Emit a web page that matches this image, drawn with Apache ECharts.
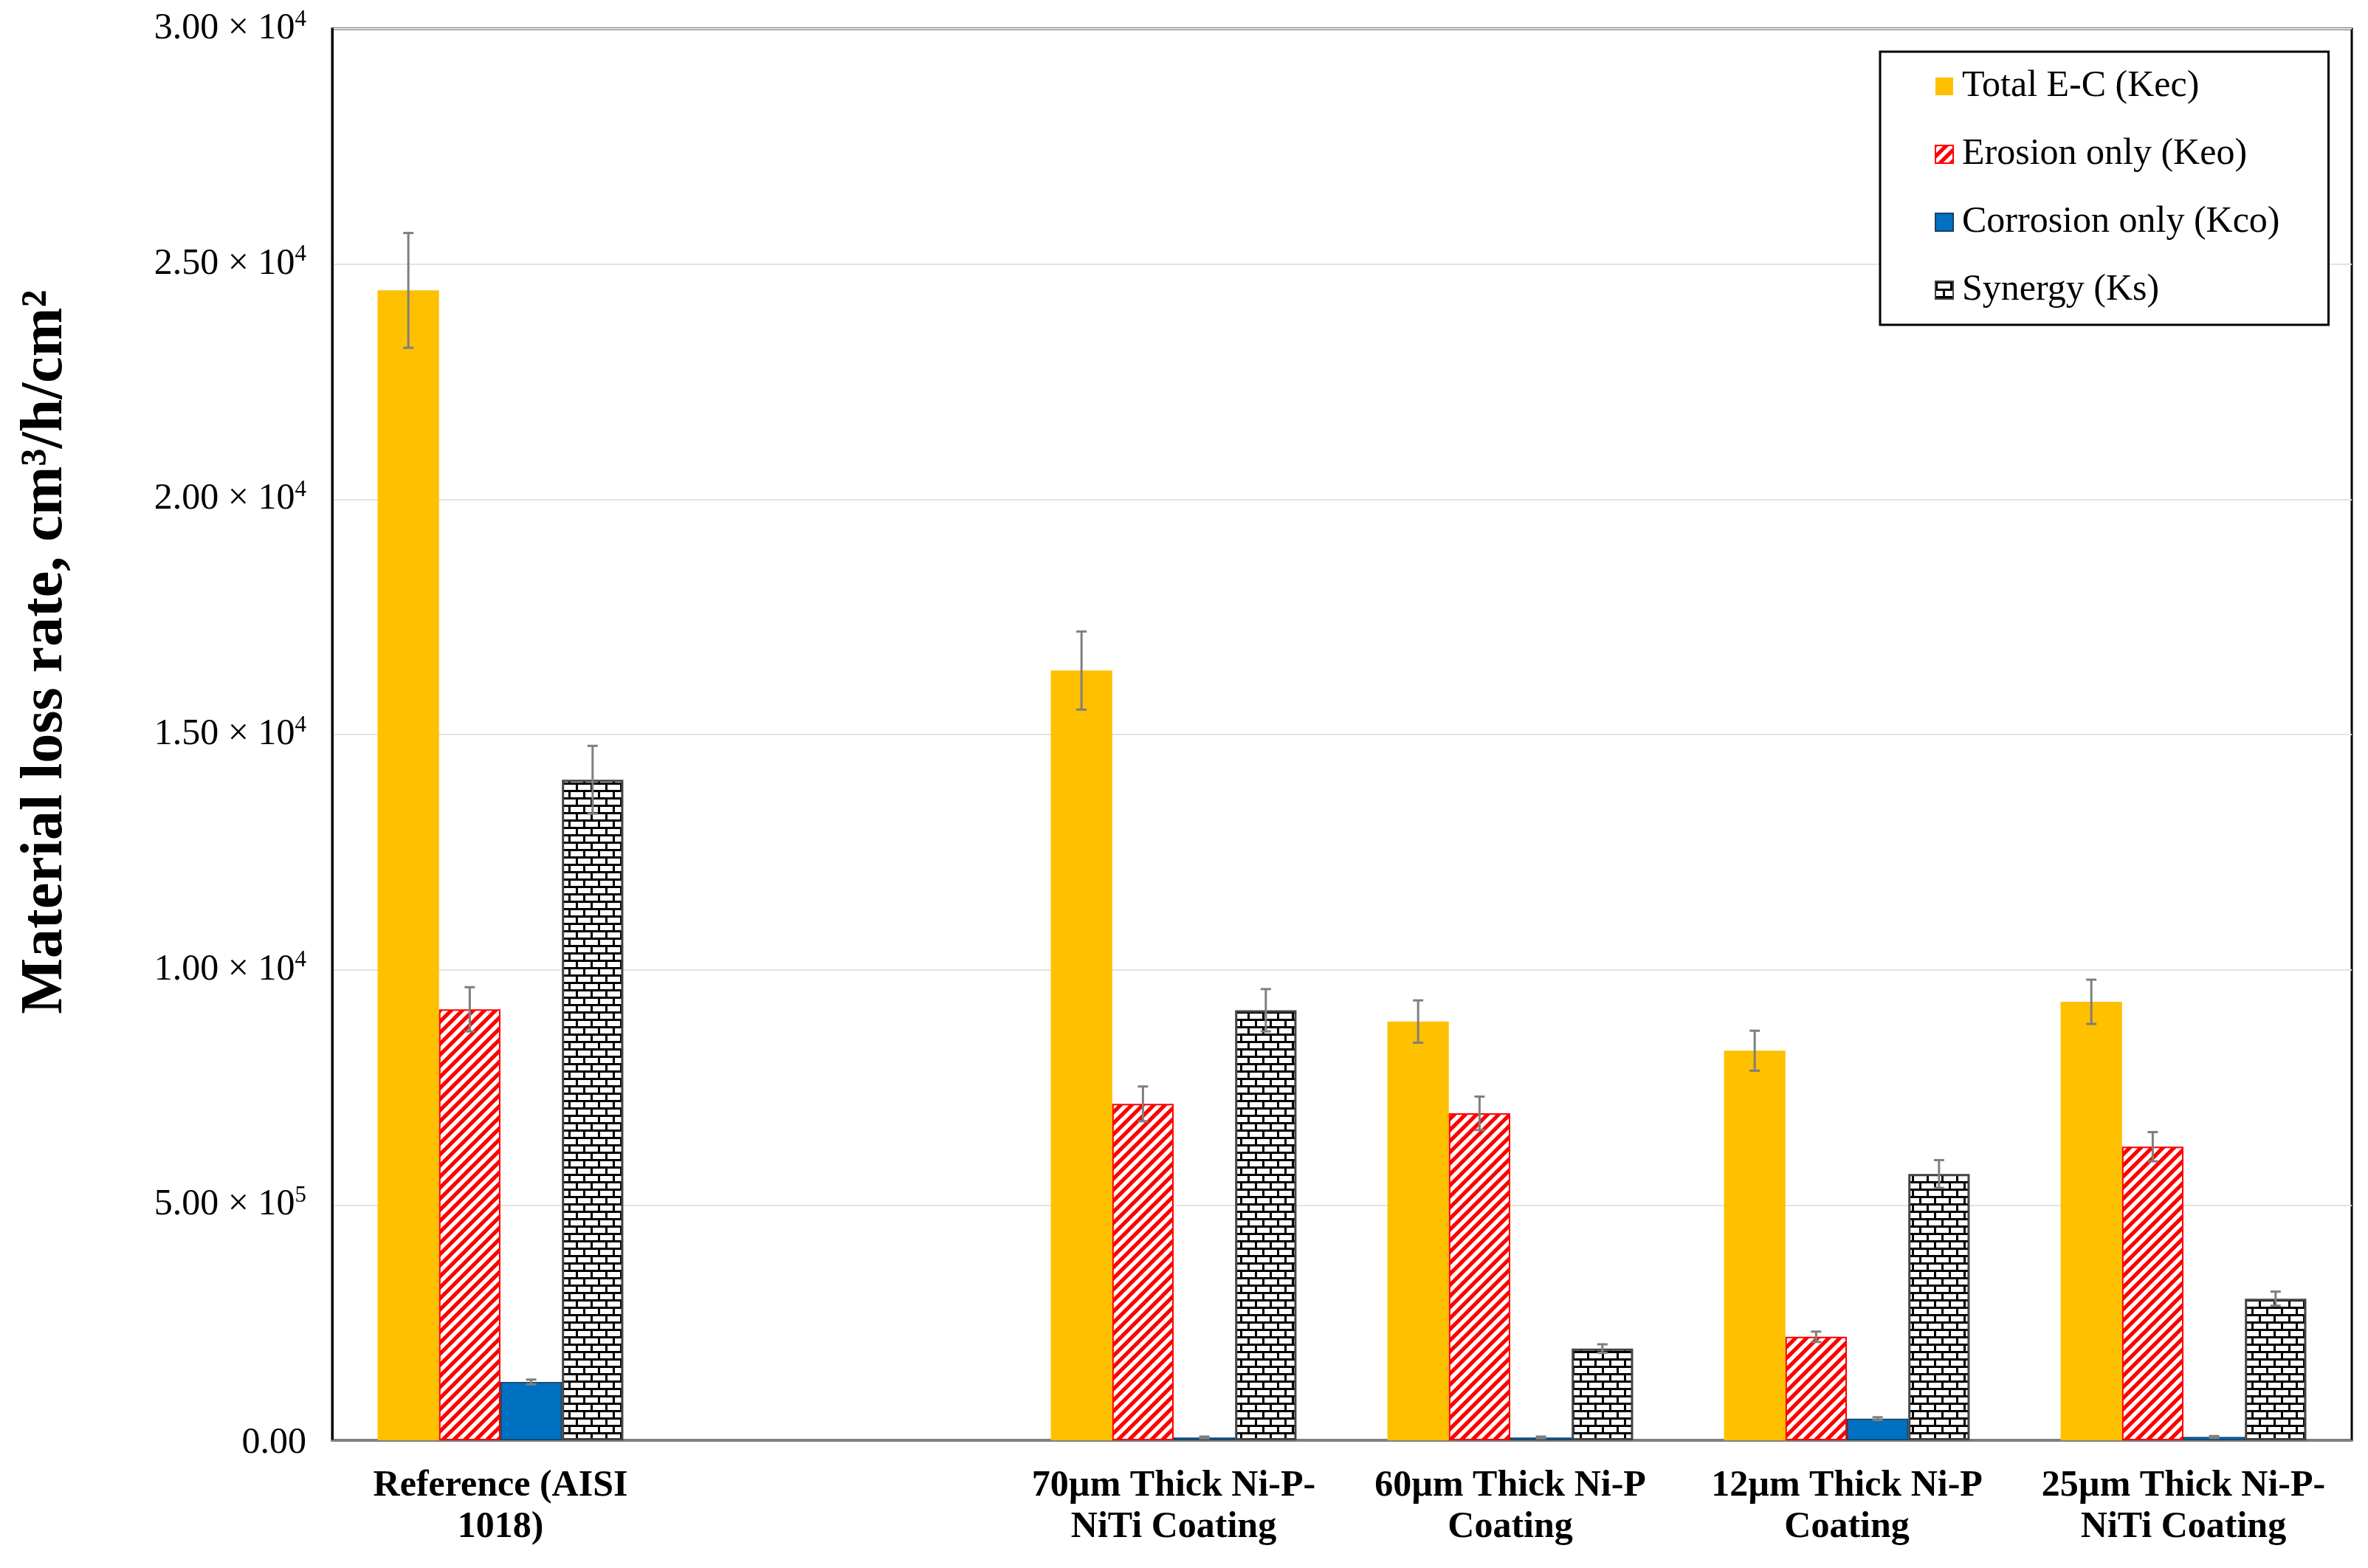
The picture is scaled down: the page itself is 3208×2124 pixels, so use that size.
<!DOCTYPE html>
<html>
<head>
<meta charset="utf-8">
<script src="https://cdn.jsdelivr.net/npm/echarts@6/dist/echarts.min.js"></script>
<style>
html,body{margin:0;padding:0;background:#fff;}
#chart{width:3208px;height:2124px;}
</style>
</head>
<body>
<div id="chart"></div>
<script>
// ---- data ----
const categories = ['Reference (AISI\n1018)', '', '70µm Thick Ni-P-\nNiTi Coating', '60µm Thick Ni-P\nCoating', '12µm Thick Ni-P\nCoating', '25µm Thick Ni-P-\nNiTi Coating'];
const seriesNames = ['Total E-C (Kec)', 'Erosion only (Keo)', 'Corrosion only (Kco)', 'Synergy (Ks)'];
const totalEC      = [24440, null, 16360, 8900, 8280, 9320];
const totalECErr   = [1220, null, 830, 450, 425, 470];
const erosion      = [9160, null, 7150, 6950, 2200, 6240];
const erosionErr   = [470, null, 370, 355, 110, 310];
const corrosion    = [1240, null, 60, 60, 460, 70];
const corrosionErr = [50, null, 20, 20, 30, 20];
const synergy      = [14040, null, 9140, 1950, 5660, 3010];
const synergyErr   = [720, null, 450, 90, 295, 150];
const yTickMantissa = ['0.00', '5.00', '1.00', '1.50', '2.00', '2.50', '3.00'];
const yTickExponent = ['', '5', '4', '4', '4', '4', '4'];

// ---- patterns ----
function stripePattern() {
  const n = 15;
  const c = document.createElement('canvas');
  c.width = n; c.height = n;
  const g = c.getContext('2d');
  g.fillStyle = '#fff'; g.fillRect(0, 0, n, n);
  g.strokeStyle = '#FF0000'; g.lineWidth = 5.2;
  g.beginPath();
  g.moveTo(-n, 2 * n); g.lineTo(2 * n, -n);
  g.moveTo(-n, n); g.lineTo(n, -n);
  g.moveTo(0, 2 * n); g.lineTo(2 * n, 0);
  g.stroke();
  return c;
}
function brickPattern() {
  const w = 20, h = 20;
  const c = document.createElement('canvas');
  c.width = w; c.height = h;
  const g = c.getContext('2d');
  g.fillStyle = '#fff'; g.fillRect(0, 0, w, h);
  g.fillStyle = '#000';
  g.fillRect(0, 0, w, 3);
  g.fillRect(0, 10, w, 3);
  g.fillRect(0, 0, 3, 10);
  g.fillRect(10, 10, 3, 10);
  return c;
}

const chart = echarts.init(document.getElementById('chart'), null, {renderer: 'canvas'});
const serif = '"Liberation Serif", "Times New Roman", serif';
const GAP = 0.27;

const valueSets = [totalEC, erosion, corrosion, synergy];
const errSets = [totalECErr, erosionErr, corrosionErr, synergyErr];
const errData = [];
valueSets.forEach((vals, s) => {
  vals.forEach((v, i) => {
    if (v != null) errData.push([i, v, errSets[s][i], s]);
  });
});

const barBase = {type: 'bar', barGap: '0%', barCategoryGap: (GAP * 100) + '%'};

const option = {
  backgroundColor: '#fff',
  animation: false,
  grid: {left: 450, right: 22, top: 39, bottom: 173, show: true, borderColor: '#000', borderWidth: 3, backgroundColor: 'transparent'},
  legend: {
    orient: 'vertical', left: 2547, top: 70,
    padding: [22, 66, 22, 74],
    itemGap: 42, itemWidth: 24, itemHeight: 24,
    borderColor: '#000', borderWidth: 3, backgroundColor: '#fff',
    icon: 'rect',
    textStyle: {fontFamily: serif, fontSize: 50, lineHeight: 50, color: '#000', padding: [0, 0, 0, 7]},
    data: seriesNames
  },
  xAxis: {
    type: 'category', data: categories,
    axisLine: {show: true, lineStyle: {color: '#7f7f7f', width: 3}},
    axisTick: {show: false},
    axisLabel: {interval: 0, fontFamily: serif, fontWeight: 'bold', fontSize: 50, lineHeight: 56, color: '#000', margin: 34}
  },
  yAxis: {
    type: 'value', min: 0, max: 30000, interval: 5000,
    axisLine: {show: true, lineStyle: {color: '#000', width: 3}},
    axisTick: {show: false},
    splitLine: {show: true, lineStyle: {color: '#e3e3e3', width: 2}},
    axisLabel: {
      margin: 35,
      formatter: function (v) {
        const i = Math.round(v / 5000);
        const m = yTickMantissa[i], e = yTickExponent[i];
        return e ? '{m|' + m + ' × 10}{s|' + e + '}' : '{z|' + m + '}';
      },
      rich: {
        m: {fontFamily: serif, fontSize: 50, color: '#000', lineHeight: 56},
        z: {fontFamily: serif, fontSize: 50, color: '#000', lineHeight: 56, padding: [8, 0, 0, 0]},
        s: {fontFamily: serif, fontSize: 31, color: '#000', verticalAlign: 'top', lineHeight: 56, padding: [0, 0, 18, 0]}
      }
    }
  },
  graphic: [{
    type: 'text', x: 62, y: 883, rotation: Math.PI / 2,
    style: {
      text: 'Material loss rate, cm³/h/cm²',
      font: 'bold 80px ' + serif, fill: '#000',
      align: 'center', verticalAlign: 'middle',
      textAlign: 'center', textVerticalAlign: 'middle'
    }
  }],
  series: [
    Object.assign({}, barBase, {name: seriesNames[0], data: totalEC, itemStyle: {color: '#FFC000'}}),
    Object.assign({}, barBase, {name: seriesNames[1], data: erosion, itemStyle: {color: {image: stripePattern(), repeat: 'repeat'}, borderColor: '#FF0000', borderWidth: 2}}),
    Object.assign({}, barBase, {name: seriesNames[2], data: corrosion, itemStyle: {color: '#0070C0', borderColor: '#1b3f63', borderWidth: 1.5}}),
    Object.assign({}, barBase, {name: seriesNames[3], data: synergy, itemStyle: {color: {image: brickPattern(), repeat: 'repeat'}, borderColor: '#444', borderWidth: 3}}),
    {
      type: 'custom', name: 'err', z: 5, silent: true,
      encode: {x: 0, y: 1},
      data: errData,
      renderItem: function (params, api) {
        const cat = api.value(0), val = api.value(1), err = api.value(2), s = api.value(3);
        const band = api.size([1, 0])[0];
        const bw = band * (1 - GAP) / 4;
        const cx = api.coord([cat, val])[0] + (s - 1.5) * bw;
        const yHi = api.coord([cat, val + err])[1];
        const yLo = api.coord([cat, Math.max(val - err, 0)])[1];
        const cap = 7;
        const st = {stroke: '#7f7f7f', lineWidth: 3};
        return {
          type: 'group',
          children: [
            {type: 'line', shape: {x1: cx, y1: yHi, x2: cx, y2: yLo}, style: st},
            {type: 'line', shape: {x1: cx - cap, y1: yHi, x2: cx + cap, y2: yHi}, style: st},
            {type: 'line', shape: {x1: cx - cap, y1: yLo, x2: cx + cap, y2: yLo}, style: st}
          ]
        };
      }
    }
  ]
};
chart.setOption(option);
</script>
</body>
</html>
